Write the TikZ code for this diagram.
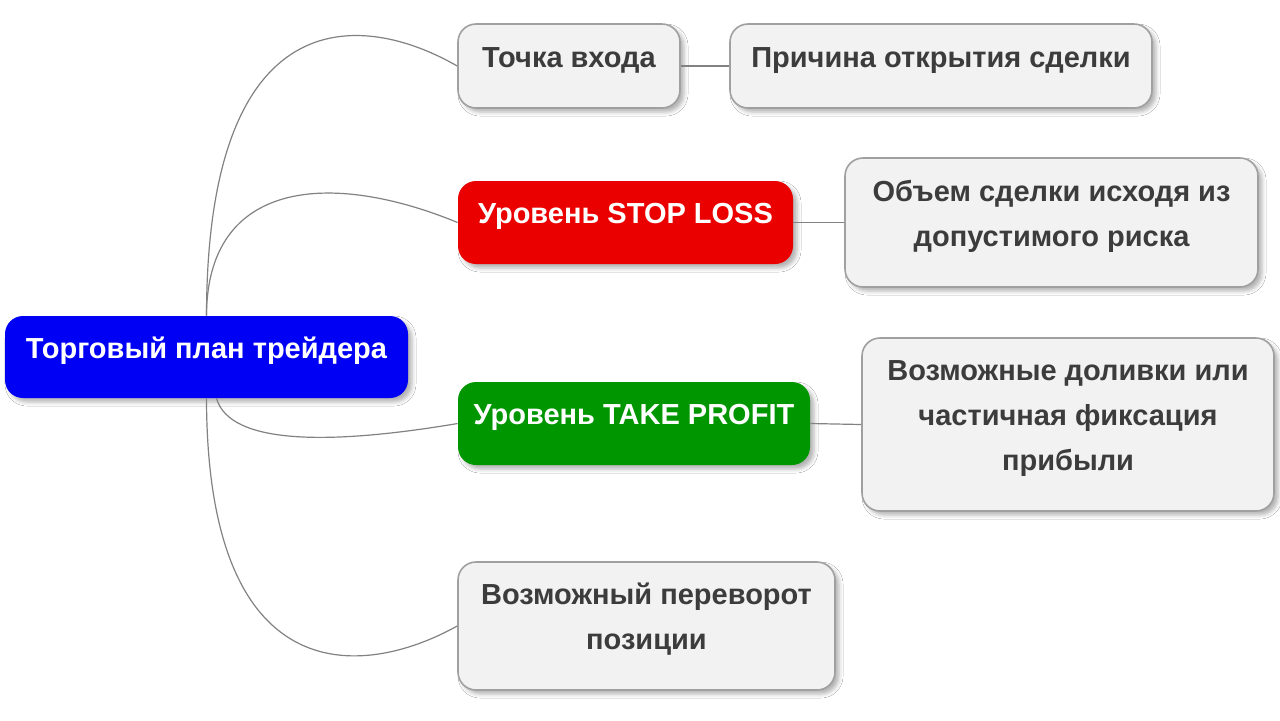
\documentclass[tikz,border=0pt]{standalone}
\usepackage{fontspec}
\setmainfont{Liberation Sans}
\usetikzlibrary{shadows.blur}
\definecolor{boxfill}{RGB}{242,242,242}
\definecolor{boxline}{RGB}{160,160,160}
\definecolor{boxtext}{RGB}{60,60,60}
\definecolor{linegray}{RGB}{130,130,130}
\definecolor{rootblue}{RGB}{0,0,245}
\definecolor{slred}{RGB}{235,0,0}
\definecolor{tpgreen}{RGB}{0,150,0}
\newcommand{\boxtxt}[1]{\raisebox{0pt}[\height][\dimexpr\depth+8pt\relax]{\begin{tabular}{@{}c@{}}#1\end{tabular}}}
\tikzset{
  base/.style={rounded corners=9pt, inner sep=0pt,
    font=\fontsize{14.5}{22.5}\selectfont\bfseries,
    blur shadow={shadow xshift=2pt, shadow yshift=-2pt, shadow blur radius=2pt, shadow opacity=30}},
  greybox/.style={base, fill=boxfill, draw=boxline, line width=0.8pt, text=boxtext},
  colbox/.style={base, text=white},
  conn/.style={draw=linegray, line width=0.6pt}
}
\begin{document}
\begin{tikzpicture}[x=0.5pt,y=-0.5pt]
\useasboundingbox (0,0) rectangle (1280,720);
\fill[white] (0,0) rectangle (1280,720);
\node[colbox, fill=rootblue, minimum width=201.5pt, minimum height=41pt] (root) at (206.5,357) {\boxtxt{Торговый план трейдера}};
\node[greybox, minimum width=111pt, minimum height=42pt] (entry) at (569,66) {\boxtxt{Точка входа}};
\node[greybox, minimum width=211pt, minimum height=42pt] (reason) at (941,66) {\boxtxt{Причина открытия сделки}};
\node[colbox, fill=slred, minimum width=167.5pt, minimum height=41.5pt] (sl) at (625.5,222.5) {\boxtxt{Уровень STOP LOSS}};
\node[greybox, minimum width=206.5pt, minimum height=64.5pt] (vol) at (1051.5,222.5) {\boxtxt{Объем сделки исходя из\\допустимого риска}};
\node[colbox, fill=tpgreen, minimum width=176pt, minimum height=41.5pt] (tp) at (634,423.5) {\boxtxt{Уровень TAKE PROFIT}};
\node[greybox, minimum width=206pt, minimum height=86.5pt] (add) at (1068,424.5) {\boxtxt{Возможные доливки или\\частичная фиксация\\прибыли}};
\node[greybox, minimum width=188.5pt, minimum height=64pt] (rev) at (646.5,626) {\boxtxt{Возможный переворот\\позиции}};
\draw[conn] (root.north) .. controls (207,0) and (360,10) .. (entry.west);
\draw[conn] (root.north) .. controls (207,180) and (330,170) .. (sl.west);
\draw[conn] ([xshift=5pt]root.south) .. controls (230,445) and (330,445) .. (tp.west);
\draw[conn] (root.south) .. controls (207,690) and (360,680) .. (rev.west);
\draw[conn] (entry.east) -- (reason.west);
\draw[conn] (sl.east) -- (vol.west);
\draw[conn] (tp.east) -- (add.west);
\end{tikzpicture}
\end{document}
